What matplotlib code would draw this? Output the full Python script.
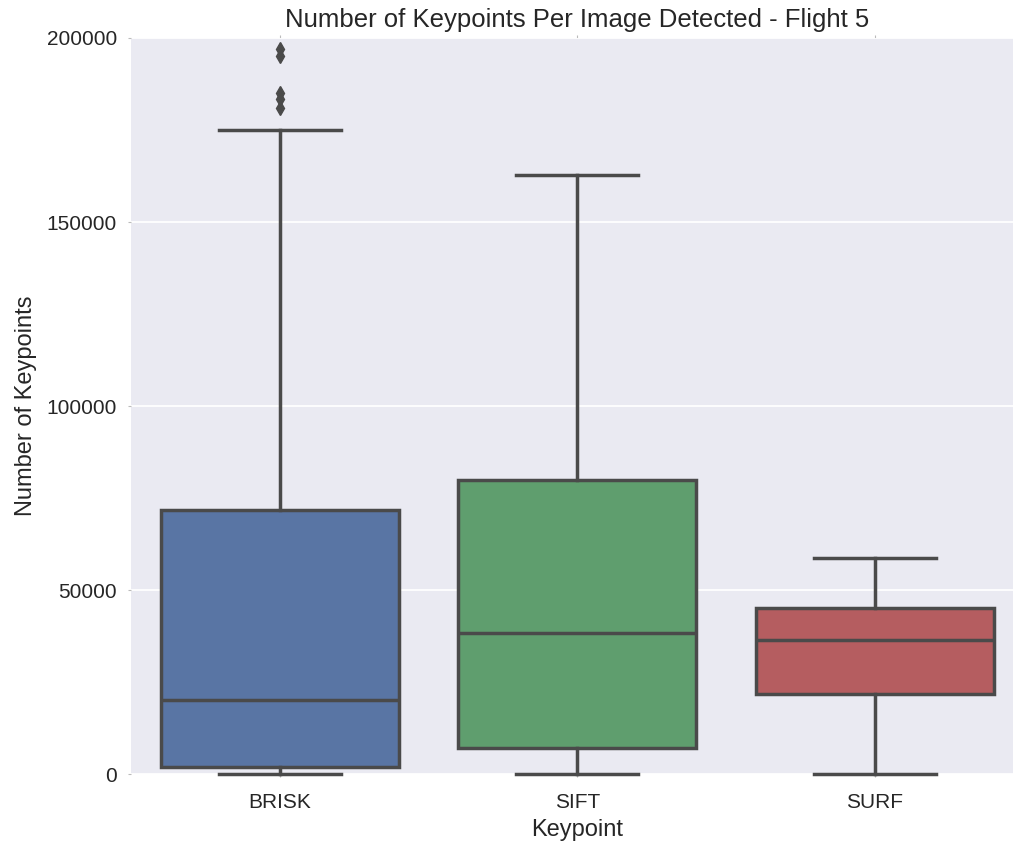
import matplotlib
matplotlib.use("Agg")
import matplotlib.pyplot as plt

categories = ["BRISK", "SIFT", "SURF"]
whisker_low = [0, 0, 0]
q1 = [1900, 7100, 21700]
medians = [20100, 38300, 36400]
q3 = [71700, 79900, 45100]
whisker_high = [175000, 162800, 58700]
outliers = [[197000, 195000, 185000, 183500, 181000], [], []]
colors = ["#5975A4", "#5F9E6E", "#B55D60"]

plt.rcParams['font.family'] = ['Liberation Sans', 'DejaVu Sans']
line_col = "#4a4a4a"

fig = plt.figure(figsize=(10.13, 8.46), dpi=100)
ax = fig.add_axes([131 / 1013, 1 - 774 / 846, 892.5 / 1013, 736 / 846])
ax.set_facecolor("#EAEAF2")

stats = []
for i, name in enumerate(categories):
    stats.append(dict(label=name, whislo=whisker_low[i], q1=q1[i], med=medians[i],
                      q3=q3[i], whishi=whisker_high[i], fliers=outliers[i]))

lw = 2.5
bp = ax.bxp(stats, positions=range(len(categories)), widths=0.8, capwidths=0.41,
            patch_artist=True,
            boxprops=dict(linewidth=lw, edgecolor=line_col),
            medianprops=dict(linewidth=lw, color=line_col),
            whiskerprops=dict(linewidth=lw, color=line_col),
            capprops=dict(linewidth=lw, color=line_col),
            flierprops=dict(marker='d', markersize=7.5, markerfacecolor=line_col,
                            markeredgecolor=line_col))
for patch, c in zip(bp['boxes'], colors):
    patch.set_facecolor(c)
for art in bp['caps'] + bp['whiskers'] + bp['boxes'] + bp['medians']:
    art.set_clip_on(False)

ax.set_xlim(-0.5, 2.5)
ax.set_ylim(0, 200000)
ax.set_yticks([0, 50000, 100000, 150000, 200000])
ax.yaxis.grid(True, color="white", linewidth=1.3)
ax.set_axisbelow(True)
for s in ax.spines.values():
    s.set_visible(False)
ax.tick_params(axis='both', length=2, width=0.8, color="#bbbbbb", labelsize=15,
               labelcolor="#262626")
ax.tick_params(axis='y', pad=8)
ax.tick_params(axis='x', top=True, pad=12)

ax.set_title("Number of Keypoints Per Image Detected - Flight 5", fontsize=18.5,
             color="#262626", pad=8)
ax.set_xlabel("Keypoint", fontsize=17, color="#262626", labelpad=5)
ax.set_ylabel("Number of Keypoints", fontsize=17, color="#262626", labelpad=7)

fig.savefig("out.png", dpi=100)
